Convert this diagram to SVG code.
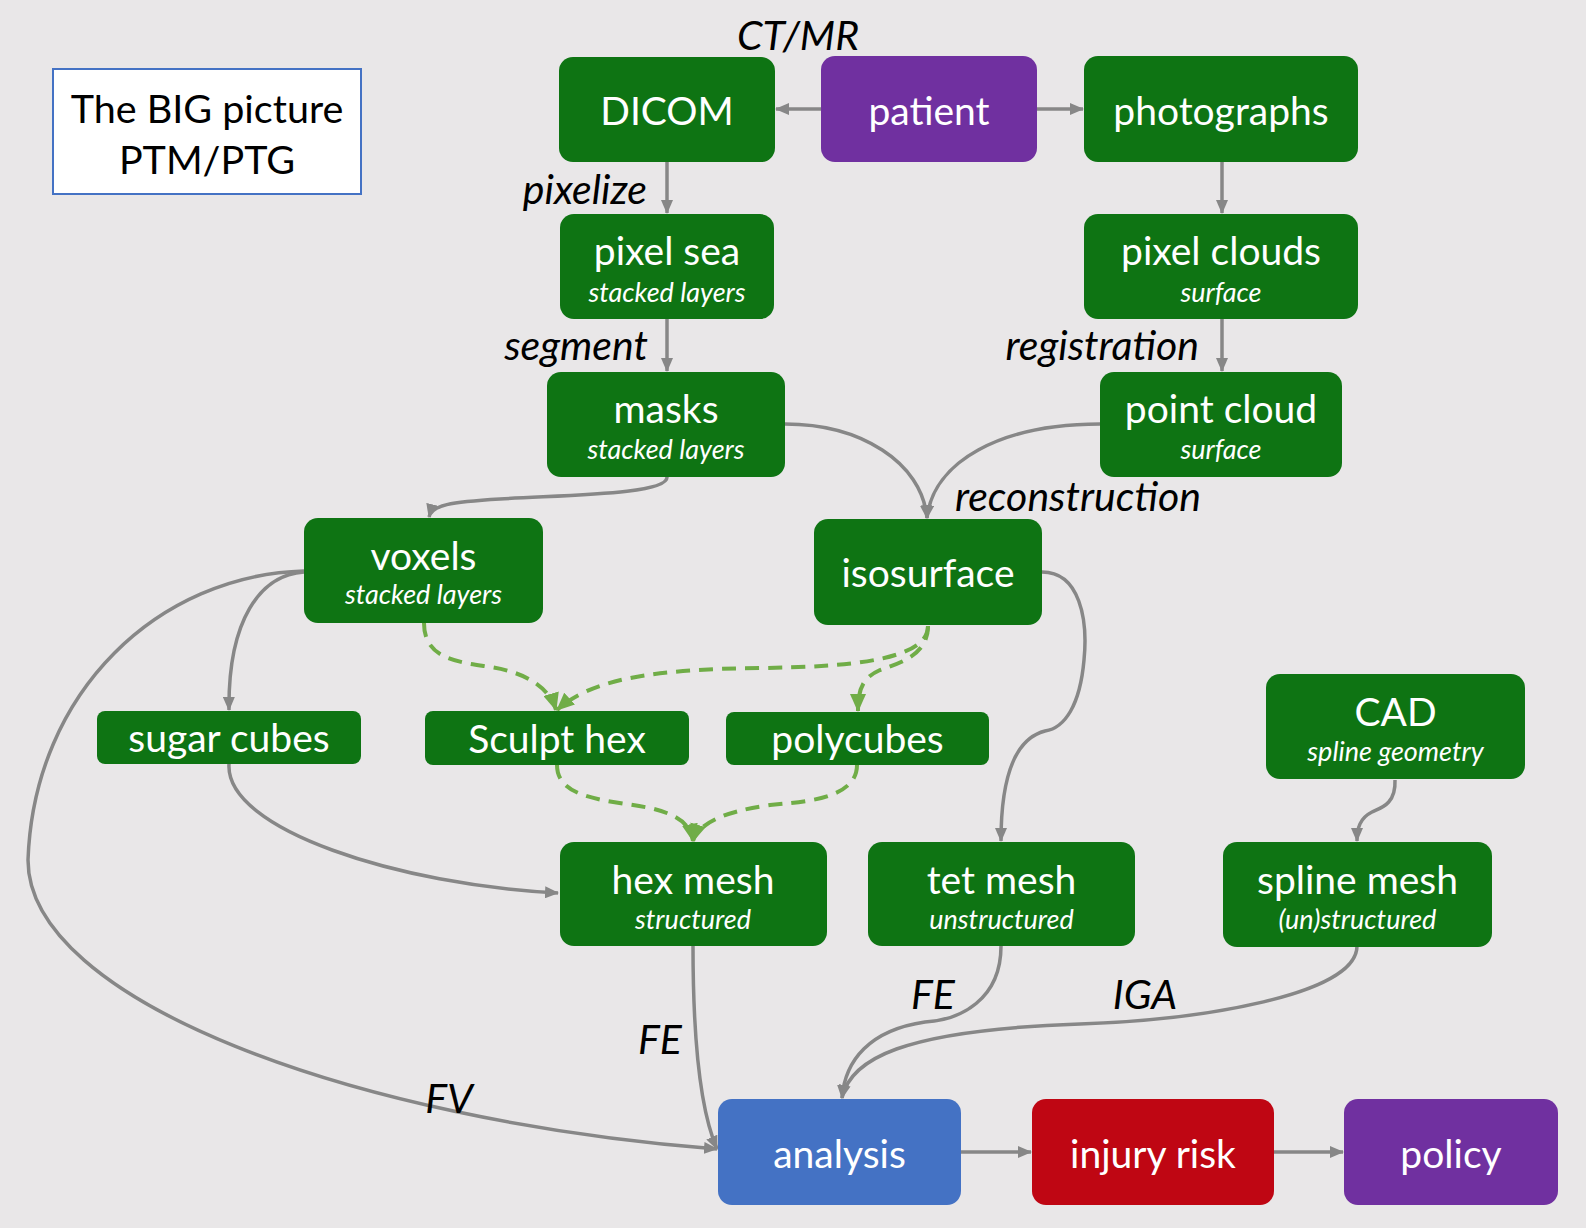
<svg xmlns="http://www.w3.org/2000/svg" width="1586" height="1228" viewBox="0 0 1586 1228">
<defs>
<style>
.bg{fill:#E9E7E8}
.g{fill:#0E7413}
.t{font-family:Lato,"Open Sans","Liberation Sans",sans-serif;fill:#fff;text-anchor:middle}
.m{font-size:39px}
.s{font-size:27px;font-style:italic}
.lab{font-family:Lato,"Open Sans","Liberation Sans",sans-serif;font-size:41px;font-style:italic;fill:#000}
.c{fill:none;stroke:#878787;stroke-width:3.5}
.d{fill:none;stroke:#70AD47;stroke-width:4;stroke-dasharray:14 9}
</style>
<marker id="ag" viewBox="0 0 14 12" refX="13" refY="6" markerWidth="14" markerHeight="12" markerUnits="userSpaceOnUse" orient="auto"><path d="M0,0 L14,6 L0,12 z" fill="#878787"/></marker>
<marker id="agr" viewBox="0 0 18 16" refX="17" refY="8" markerWidth="18" markerHeight="16" markerUnits="userSpaceOnUse" orient="auto"><path d="M0,0 L18,8 L0,16 z" fill="#70AD47"/></marker>
</defs>
<rect class="bg" x="0" y="0" width="1586" height="1228"/>

<g id="title">
<rect x="53" y="69" width="308" height="125" fill="#fff" stroke="#4472C4" stroke-width="2"/>
<text x="207" y="123" font-family="Lato,'Open Sans','Liberation Sans',sans-serif" font-size="39.5" text-anchor="middle" fill="#000">The BIG picture</text>
<text x="207" y="174" font-family="Lato,'Open Sans','Liberation Sans',sans-serif" font-size="39.5" text-anchor="middle" fill="#000">PTM/PTG</text>
</g>

<g id="connectors">
<path class="c" d="M821,109 L776,109" marker-end="url(#ag)"/>
<path class="c" d="M1037,109 L1083,109" marker-end="url(#ag)"/>
<path class="c" d="M667,162 L667,213" marker-end="url(#ag)"/>
<path class="c" d="M1222,162 L1222,213" marker-end="url(#ag)"/>
<path class="c" d="M667,319 L667,371" marker-end="url(#ag)"/>
<path class="c" d="M1222,319 L1222,371" marker-end="url(#ag)"/>
<path class="c" d="M667,477 C668,495 560,495 500,499 C450,502 432,505 429,517" marker-end="url(#ag)"/>
<path class="c" d="M785,424 C860,424 922,462 927,518" marker-end="url(#ag)"/>
<path class="c" d="M1100,424 C1000,424 933,462 927,518" marker-end="url(#ag)"/>
<path class="c" d="M304,572 C260,575 228,620 229,710" marker-end="url(#ag)"/>
<path class="c" d="M304,571 C160,575 34,690 28,860 C28,1000 350,1120 717,1149" marker-end="url(#ag)"/>
<path class="c" d="M229,764 C225,830 400,885 558,893" marker-end="url(#ag)"/>
<path class="c" d="M1042,572 C1080,572 1088,620 1084,660 C1080,705 1065,728 1045,731 C1010,740 1001,790 1001,841" marker-end="url(#ag)"/>
<path class="c" d="M1395,780 C1396,805 1380,808 1372,812 C1360,818 1357,828 1357,841" marker-end="url(#ag)"/>
<path class="c" d="M693,946 C693,1040 700,1110 717,1149" marker-end="url(#ag)"/>
<path class="c" d="M1001,946 C1001,1000 960,1020 925,1022 C870,1030 845,1060 842,1098" marker-end="url(#ag)"/>
<path class="c" d="M1357,946 C1357,995 1200,1020 1080,1024 C900,1030 850,1060 842,1098" marker-end="url(#ag)"/>
<path class="c" d="M961,1152 L1031,1152" marker-end="url(#ag)"/>
<path class="c" d="M1274,1152 L1343,1152" marker-end="url(#ag)"/>
<path class="d" d="M424,623 C424,660 460,662 490,667 C530,673 550,690 556,710" marker-end="url(#agr)"/>
<path class="d" d="M928,626 C928,660 850,667 760,668 C650,669 590,680 557,710" marker-end="url(#agr)"/>
<path class="d" d="M928,626 C928,655 900,663 880,670 C862,678 858,690 858,711" marker-end="url(#agr)"/>
<path class="d" d="M557,765 C557,800 610,800 650,808 C680,815 690,825 693,841" marker-end="url(#agr)"/>
<path class="d" d="M857,765 C857,800 800,802 770,805 C720,812 698,825 693,841" marker-end="url(#agr)"/>
</g>

<g id="edge-labels">
<text class="lab" x="798" y="50" text-anchor="middle">CT/MR</text>
<text class="lab" x="647" y="204" text-anchor="end">pixelize</text>
<text class="lab" x="648" y="360" text-anchor="end">segment</text>
<text class="lab" x="1199" y="360" text-anchor="end">registration</text>
<text class="lab" x="1078" y="511" text-anchor="middle">reconstruction</text>
<text class="lab" x="660" y="1054" text-anchor="middle">FE</text>
<text class="lab" x="933" y="1009" text-anchor="middle">FE</text>
<text class="lab" x="1145" y="1009" text-anchor="middle">IGA</text>
<text class="lab" x="449" y="1113" text-anchor="middle">FV</text>
</g>

<g id="node-dicom"><rect class="g" x="559" y="57" width="216" height="105" rx="14"/><text class="t m" x="667" y="125">DICOM</text></g>
<g id="node-patient"><rect x="821" y="56" width="216" height="106" rx="14" fill="#7030A0"/><text class="t m" x="929" y="125">patient</text></g>
<g id="node-photographs"><rect class="g" x="1084" y="56" width="274" height="106" rx="14"/><text class="t m" x="1221" y="125">photographs</text></g>
<g id="node-pixelsea"><rect class="g" x="560" y="214" width="214" height="105" rx="14"/><text class="t m" x="667" y="265">pixel sea</text><text class="t s" x="667" y="302">stacked layers</text></g>
<g id="node-pixelclouds"><rect class="g" x="1084" y="214" width="274" height="105" rx="14"/><text class="t m" x="1221" y="265">pixel clouds</text><text class="t s" x="1221" y="302">surface</text></g>
<g id="node-masks"><rect class="g" x="547" y="372" width="238" height="105" rx="14"/><text class="t m" x="666" y="423">masks</text><text class="t s" x="666" y="459">stacked layers</text></g>
<g id="node-pointcloud"><rect class="g" x="1100" y="372" width="242" height="105" rx="14"/><text class="t m" x="1221" y="423">point cloud</text><text class="t s" x="1221" y="459">surface</text></g>
<g id="node-voxels"><rect class="g" x="304" y="518" width="239" height="105" rx="14"/><text class="t m" x="423.5" y="570">voxels</text><text class="t s" x="423.5" y="604">stacked layers</text></g>
<g id="node-isosurface"><rect class="g" x="814" y="519" width="228" height="106" rx="14"/><text class="t m" x="928" y="587">isosurface</text></g>
<g id="node-sugarcubes"><rect class="g" x="97" y="711" width="264" height="53" rx="8"/><text class="t m" x="229" y="752">sugar cubes</text></g>
<g id="node-sculpthex"><rect class="g" x="425" y="711" width="264" height="54" rx="8"/><text class="t m" x="557" y="753">Sculpt hex</text></g>
<g id="node-polycubes"><rect class="g" x="726" y="712" width="263" height="53" rx="8"/><text class="t m" x="857.5" y="753">polycubes</text></g>
<g id="node-cad"><rect class="g" x="1266" y="674" width="259" height="105" rx="14"/><text class="t m" x="1395.5" y="726">CAD</text><text class="t s" x="1395.5" y="761">spline geometry</text></g>
<g id="node-hexmesh"><rect class="g" x="560" y="842" width="267" height="104" rx="14"/><text class="t m" x="693" y="894">hex mesh</text><text class="t s" x="693" y="929">structured</text></g>
<g id="node-tetmesh"><rect class="g" x="868" y="842" width="267" height="104" rx="14"/><text class="t m" x="1001.5" y="894">tet mesh</text><text class="t s" x="1001.5" y="929">unstructured</text></g>
<g id="node-splinemesh"><rect class="g" x="1223" y="842" width="269" height="105" rx="14"/><text class="t m" x="1357.5" y="894">spline mesh</text><text class="t s" x="1357.5" y="929">(un)structured</text></g>
<g id="node-analysis"><rect x="718" y="1099" width="243" height="106" rx="14" fill="#4472C4"/><text class="t m" x="839.5" y="1168">analysis</text></g>
<g id="node-injuryrisk"><rect x="1032" y="1099" width="242" height="106" rx="14" fill="#BF0613"/><text class="t m" x="1153" y="1168">injury risk</text></g>
<g id="node-policy"><rect x="1344" y="1099" width="214" height="106" rx="14" fill="#7030A0"/><text class="t m" x="1451" y="1168">policy</text></g>
</svg>
